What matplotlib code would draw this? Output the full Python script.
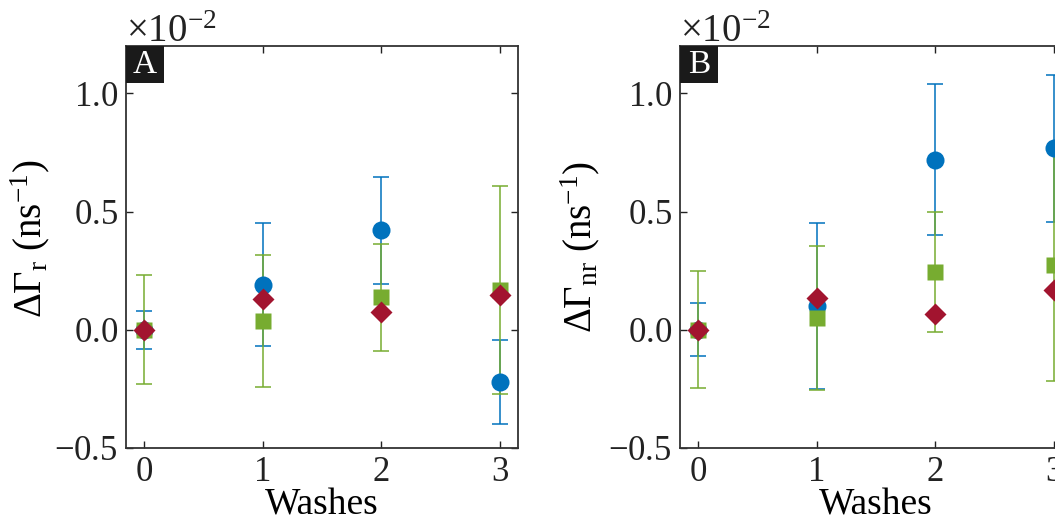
import matplotlib
matplotlib.use("Agg")
import matplotlib.pyplot as plt
from matplotlib.patches import Rectangle
from matplotlib.ticker import ScalarFormatter, FixedLocator

# Number of washes
washes = [0, 1, 2, 3]

# Values are in units of 1e-2 ns^-1
SCALE = 1e-2

# Panel A: change in radiative rate
a_blue = [0.00, 0.19, 0.42, -0.22]
a_blue_err = [0.08, 0.26, 0.225, 0.177]
a_green = [0.00, 0.038, 0.137, 0.168]
a_green_err = [0.23, 0.28, 0.226, 0.44]
a_red = [0.00, 0.130, 0.075, 0.147]

# Panel B: change in non-radiative rate
b_blue = [0.00, 0.10, 0.719, 0.767]
b_blue_err = [0.112, 0.35, 0.32, 0.31]
b_green = [0.00, 0.049, 0.244, 0.273]
b_green_err = [0.248, 0.305, 0.253, 0.49]
b_red = [0.00, 0.134, 0.066, 0.167]

yticks = [-0.5, 0.0, 0.5, 1.0]
panel_labels = ["A", "B"]
ylabels = [r"$\Delta\Gamma_{\mathrm{r}}$ (ns$^{-1}$)",
           r"$\Delta\Gamma_{\mathrm{nr}}$ (ns$^{-1}$)"]

BLUE = "#0072BD"
GREEN = "#77AC30"
RED = "#A2142F"

FONT = "Liberation Serif"
FS = 25
plt.rcParams["font.family"] = FONT
plt.rcParams["mathtext.fontset"] = "custom"
plt.rcParams["mathtext.rm"] = FONT
plt.rcParams["mathtext.it"] = FONT + ":italic"
plt.rcParams["mathtext.bf"] = FONT + ":bold"
plt.rcParams["axes.unicode_minus"] = True

W, H = 1055, 517
fig = plt.figure(figsize=(W / 100, H / 100), dpi=100)

panels = [
    (a_blue, a_blue_err, a_green, a_green_err, a_red),
    (b_blue, b_blue_err, b_green, b_green_err, b_red),
]
lefts = [126, 680]
ylabel_xy = [(-0.19, 0.52), (-0.20, 0.50)]
ax_w, ax_h = 392, 402
ax_bottom = 517 - 448

for i, (bl, ble, gr, gre, rd) in enumerate(panels):
    ax = fig.add_axes([lefts[i] / W, ax_bottom / H, ax_w / W, ax_h / H])
    s = lambda v: [x * SCALE for x in v]
    ekw = dict(fmt="none", elinewidth=1.1, capsize=6, capthick=1.1, zorder=2)
    ax.errorbar(washes, s(bl), yerr=s(ble), ecolor=BLUE, **ekw)
    ax.errorbar(washes, s(gr), yerr=s(gre), ecolor=GREEN, **ekw)
    ax.plot(washes, s(bl), "o", color=BLUE, ms=13, mec="none", zorder=3)
    ax.plot(washes, s(gr), "s", color=GREEN, ms=11.5, mec="none", zorder=4)
    ax.plot(washes, s(rd), "D", color=RED, ms=11, mec="none", zorder=5)

    ax.set_xlim(-0.15, 3.15)
    ax.set_ylim(-0.5 * SCALE, 1.2 * SCALE)
    ax.set_xticks(washes)
    ax.yaxis.set_major_locator(FixedLocator([t * SCALE for t in yticks]))
    fmt = ScalarFormatter(useMathText=True)
    fmt.set_powerlimits((-1, 1))
    ax.yaxis.set_major_formatter(fmt)
    off = ax.yaxis.get_offset_text()
    off.set_fontsize(28)
    off.set_va("baseline")

    ax.tick_params(direction="in", length=5, width=1.0, top=True, right=True,
                   labelsize=FS, pad=6, colors="#222222")
    for sp in ax.spines.values():
        sp.set_linewidth(1.3)
        sp.set_color("#333333")

    ax.set_xlabel("Washes", fontsize=27, labelpad=-1)
    ax.set_ylabel(ylabels[i], fontsize=28)
    ax.yaxis.set_label_coords(*ylabel_xy[i])

    bw, bh = 38 / ax_w, 37 / ax_h
    ax.add_patch(Rectangle((0, 1 - bh), bw, bh, transform=ax.transAxes,
                           fc="#1a1a1a", ec="none", zorder=9, clip_on=False))
    ax.text(bw / 2, 1 - bh / 2, panel_labels[i], transform=ax.transAxes,
            ha="center", va="center", color="white", fontsize=FS - 1,
            zorder=10)

fig.savefig("out.png", dpi=100)
